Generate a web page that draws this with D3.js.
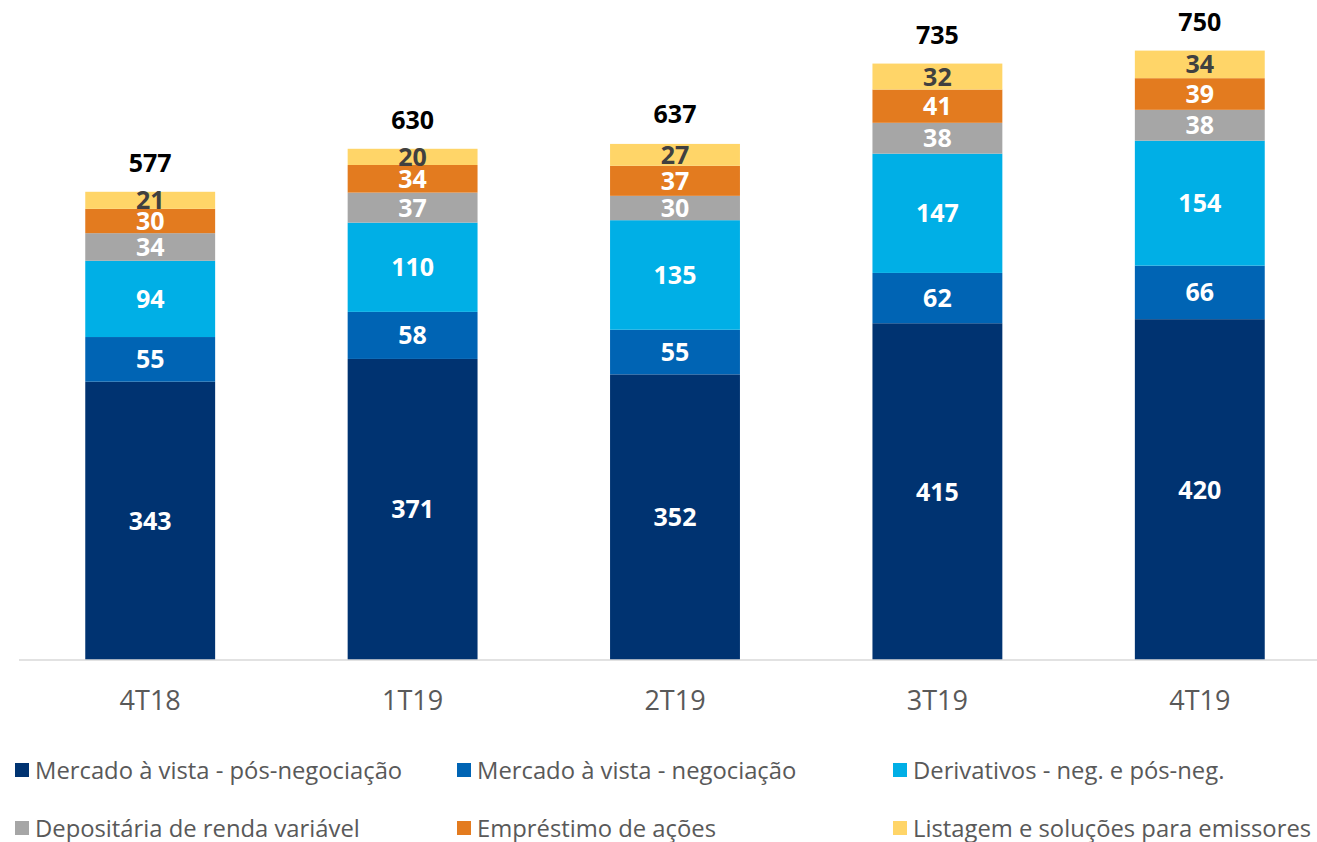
<!DOCTYPE html>
<html>
<head>
<meta charset="utf-8">
<script src="https://cdn.jsdelivr.net/npm/d3@7"></script>
<style>
  body { margin: 0; background: #fff; }
  svg { display: block; font-family: "Open Sans", "Noto Sans", sans-serif; }
</style>
</head>
<body>
<div id="chart"></div>
<script>
// data
const quarters = ['4T18', '1T19', '2T19', '3T19', '4T19'];
const seriesNames = [
  'Mercado à vista - pós-negociação',
  'Mercado à vista - negociação',
  'Derivativos - neg. e pós-neg.',
  'Depositária de renda variável',
  'Empréstimo de ações',
  'Listagem e soluções para emissores'
];
const posNeg = [343, 371, 352, 415, 420];
const negociacao = [55, 58, 55, 62, 66];
const derivativos = [94, 110, 135, 147, 154];
const depositaria = [34, 37, 30, 38, 38];
const emprestimo = [30, 34, 37, 41, 39];
const listagem = [21, 20, 27, 32, 34];
const totals = [577, 630, 637, 735, 750];

const colors = ['#003371', '#0064B4', '#00AFE6', '#A6A6A6', '#E37B1F', '#FFD568'];
const labelColors = ['#fff', '#fff', '#fff', '#fff', '#fff', '#404040'];

const width = 1317, height = 842;
const baseline = 660;

const rows = quarters.map((q, i) => ({
  q,
  s0: posNeg[i], s1: negociacao[i], s2: derivativos[i],
  s3: depositaria[i], s4: emprestimo[i], s5: listagem[i],
  total: totals[i]
}));
const keys = ['s0', 's1', 's2', 's3', 's4', 's5'];
const stacked = d3.stack().keys(keys)(rows);

const x = d3.scaleBand().domain(quarters).range([19, 1331]).paddingInner(0.505).paddingOuter(0.2525);
const y = d3.scaleLinear().domain([0, 750]).range([baseline, 51.4]);

const svg = d3.select('#chart').append('svg')
  .attr('width', width)
  .attr('height', height);

// bars
const layers = svg.selectAll('g.layer')
  .data(stacked)
  .enter().append('g')
  .attr('class', 'layer')
  .attr('fill', (d, i) => colors[i]);

layers.selectAll('rect')
  .data(d => d)
  .enter().append('rect')
  .attr('x', d => x(d.data.q))
  .attr('width', x.bandwidth())
  .attr('y', d => y(d[1]))
  .attr('height', d => y(d[0]) - y(d[1]));

// segment labels
stacked.forEach((layer, i) => {
  svg.append('g').selectAll('text')
    .data(layer)
    .enter().append('text')
    .attr('x', d => x(d.data.q) + x.bandwidth() / 2)
    .attr('y', d => (y(d[0]) + y(d[1])) / 2)
    .attr('dy', '0.36em')
    .attr('text-anchor', 'middle')
    .attr('font-size', 25)
    .attr('font-weight', 'bold')
    .attr('fill', labelColors[i])
    .text(d => d[1] - d[0]);
});

// totals
svg.append('g').selectAll('text')
  .data(rows)
  .enter().append('text')
  .attr('x', d => x(d.q) + x.bandwidth() / 2)
  .attr('y', d => y(d.total) - 20)
  .attr('text-anchor', 'middle')
  .attr('font-size', 25)
  .attr('font-weight', 'bold')
  .attr('fill', '#000')
  .text(d => d.total);

// x axis
const xAxis = svg.append('g')
  .attr('transform', `translate(0,${baseline})`)
  .call(d3.axisBottom(x).tickSize(0).tickPadding(31));
xAxis.select('.domain').attr('stroke', '#d9d9d9').attr('stroke-width', 1.5)
  .attr('d', 'M19,0H1317');
xAxis.selectAll('text')
  .attr('font-family', '"Open Sans", sans-serif')
  .attr('font-size', 27)
  .attr('fill', '#595959');

// legend
const legendX = [15, 457, 893];
const legendY = [770, 828];
const legend = svg.append('g').selectAll('g')
  .data(seriesNames)
  .enter().append('g')
  .attr('transform', (d, i) => `translate(${legendX[i % 3]},${legendY[Math.floor(i / 3)]})`);
legend.append('rect')
  .attr('x', 0).attr('y', -7)
  .attr('width', 14).attr('height', 14)
  .attr('fill', (d, i) => colors[i]);
legend.append('text')
  .attr('x', 20)
  .attr('dy', '0.36em')
  .attr('font-size', 23.8)
  .attr('fill', '#595959')
  .text(d => d);
</script>
</body>
</html>
